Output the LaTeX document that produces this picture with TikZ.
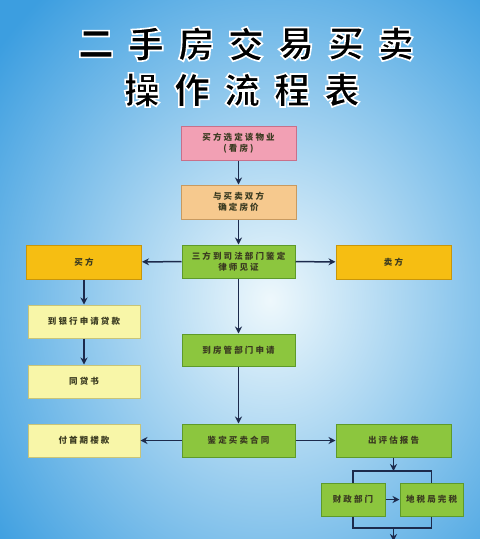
\documentclass[tikz,border=0pt]{standalone}
\usepackage{fontspec}
\newfontfamily\cjk{Noto Sans CJK SC}
\newfontfamily\cjkbox[LetterSpace=25]{Noto Sans CJK SC}
\usetikzlibrary{arrows.meta}
\definecolor{bgout}{HTML}{3C9EE0}
\definecolor{bgin}{HTML}{EEF8FC}
\definecolor{pinkf}{HTML}{F2A0B4}
\definecolor{pinkd}{HTML}{C8708A}
\definecolor{peachf}{HTML}{F6C98E}
\definecolor{peachd}{HTML}{C89A60}
\definecolor{greenf}{HTML}{8CC63E}
\definecolor{greend}{HTML}{5E9A2A}
\definecolor{goldf}{HTML}{F6BE12}
\definecolor{goldd}{HTML}{C8960A}
\definecolor{lyf}{HTML}{F8F6A8}
\definecolor{lyd}{HTML}{C8C478}
\definecolor{arr}{HTML}{1C2A4C}
\definecolor{boxtext}{HTML}{3A3A20}
\newcommand{\outlined}[1]{\special{pdf:literal direct 2 Tr 1.6 w 1 1 1 RG}#1\special{pdf:literal direct 0 Tr 0 G}}
\tikzset{
  box/.style={draw, line width=1pt, minimum width=#1, minimum height=33pt,
    inner sep=1pt, align=center, font=\cjkbox\bfseries\fontsize{8.5}{11}\selectfont,
    text=boxtext},
  pinkbox/.style={box=115pt, fill=pinkf, draw=pinkd},
  peachbox/.style={box=115pt, fill=peachf, draw=peachd},
  greenbox/.style={box=#1, fill=greenf, draw=greend},
  goldbox/.style={box=115pt, fill=goldf, draw=goldd},
  lybox/.style={box=112pt, fill=lyf, draw=lyd},
  flow/.style={draw=arr, line width=1.5pt, -{Stealth[length=7pt,width=7pt]}},
  link/.style={draw=arr, line width=1.5pt},
  titlechar/.style={font=\cjk\bfseries\fontsize{36}{36}\selectfont, inner sep=0pt, text=black}
}
\begin{document}
\begin{tikzpicture}[x=1pt,y=-1pt]
\useasboundingbox (0,0) rectangle (480,539);
\begin{scope}
\clip (0,0) rectangle (480,539);
\shade[inner color=bgin, outer color=bgout] (-80,-100) rectangle (620,700);
\end{scope}
% title
\foreach \c [count=\i] in {二,手,房,交,易,买,卖}{
  \node[titlechar] (t1\i) at (96+50*\i-50,44) {\outlined{\c}};
}
\foreach \c [count=\i] in {操,作,流,程,表}{
  \node[titlechar] (t2\i) at (142+50*\i-50,90) {\outlined{\c}};
}
% boxes
\node[pinkbox, minimum height=34pt] (b1) at (238.5,143) {买方选定该物业\\(看房)};
\node[peachbox, minimum height=34pt] (b2) at (238.5,202) {与买卖双方\\确定房价};
\node[greenbox=113pt] (b3) at (238.5,261.5) {三方到司法部门鉴定\\律师见证};
\node[goldbox, minimum height=34pt] (buyer) at (84,262) {买方};
\node[goldbox, minimum height=34pt] (seller) at (393.5,262) {卖方};
\node[lybox] (loan) at (84,321.5) {到银行申请贷款};
\node[lybox] (letter) at (84,381.5) {同贷书};
\node[greenbox=113pt, minimum height=32pt] (fang) at (238.5,350) {到房管部门申请};
\node[greenbox=113pt] (contract) at (238.5,440.5) {鉴定买卖合同};
\node[lybox] (pay) at (84,440.5) {付首期楼款};
\node[greenbox=115pt] (report) at (393.5,440.5) {出评估报告};
\node[greenbox=64pt] (fin) at (353,499.5) {财政部门};
\node[greenbox=63pt] (tax) at (431.5,499.5) {地税局完税};
% connectors
\draw[flow] (b1) -- (b2);
\draw[flow] (b2) -- (b3);
\draw[flow] (b3) -- (buyer);
\draw[flow] (b3) -- (seller);
\draw[flow] (buyer) -- (loan);
\draw[flow] (loan) -- (letter);
\draw[flow] (b3) -- (fang);
\draw[flow] (fang) -- (contract);
\draw[flow] (contract) -- (pay);
\draw[flow] (contract) -- (report);
\draw[flow] (fin) -- (tax);
\coordinate (top) at (report.south |- 0,471);
\coordinate (bot) at (report.south |- 0,528);
\coordinate (end) at (report.south |- 0,541);
\draw[flow] (report) -- (top);
\draw[link] (fin.north) |- (top) -| (tax.north);
\draw[link] (fin.south) |- (bot) -| (tax.south);
\draw[flow] (bot) -- (end);
\end{tikzpicture}
\end{document}
